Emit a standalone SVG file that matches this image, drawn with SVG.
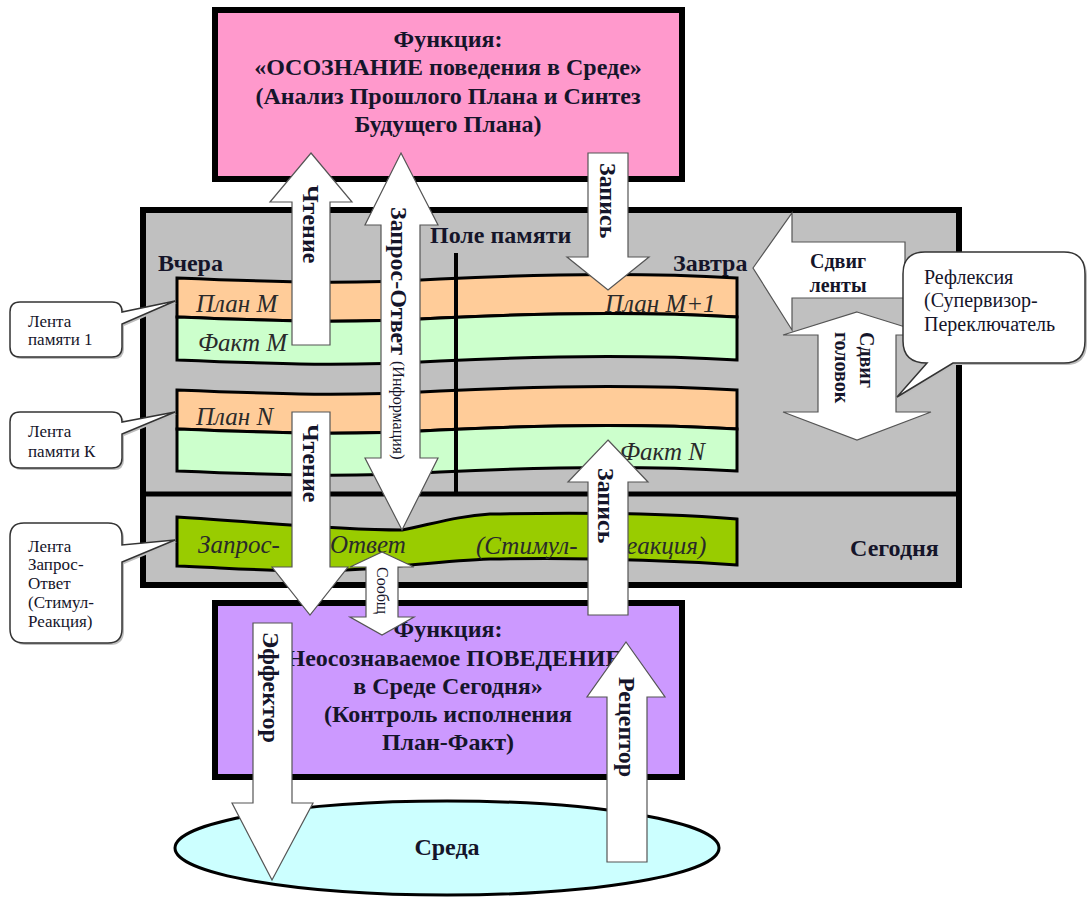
<svg xmlns="http://www.w3.org/2000/svg" width="1088" height="899" viewBox="0 0 1088 899">
<style>
.b{font-family:"Liberation Serif",serif;font-weight:bold;fill:#15152a}
.r{font-family:"Liberation Serif",serif;font-weight:normal;fill:#15152a}
.t{font-size:24px}
.c{text-anchor:middle}
.arr{fill:#fff;stroke:#555;stroke-width:1.2}
.frame{stroke:#000;stroke-width:6}
.tape{stroke:#000;stroke-width:3}
.it{font-family:"Liberation Serif",serif;font-style:italic;font-size:25px;fill:#2a2a2a}
.co{fill:#fff;stroke:#333;stroke-width:1.5}
.sh{fill:#bdbdbd}
.ct{font-family:"Liberation Serif",serif;font-size:17px;fill:#15152a}
.ct2{font-family:"Liberation Serif",serif;font-size:20px;fill:#15152a}
.rl{dominant-baseline:central}
</style>
<rect x="0" y="0" width="1088" height="899" fill="#fff"/>

<g id="func-top">
<rect class="frame" x="215" y="10" width="467" height="169" fill="#FF99CC"/>
<text class="b t c" x="448" y="47">Функция:</text>
<text class="b t c" x="448" y="75">«ОСОЗНАНИЕ поведения в Среде»</text>
<text class="b t c" x="448" y="104">(Анализ Прошлого Плана и Синтез</text>
<text class="b t c" x="448" y="132">Будущего Плана)</text>
</g>

<g id="memory-field">
<rect class="frame" x="143" y="210" width="816" height="375" fill="#C0C0C0"/>
<line x1="143" y1="494" x2="959" y2="494" stroke="#000" stroke-width="5"/>
<text class="b t" x="430" y="243">Поле памяти</text>
<text class="b t" x="158" y="271">Вчера</text>
<text class="b t" x="673" y="271">Завтра</text>
<text class="b t" x="850" y="556">Сегодня</text>
</g>

<g id="tape-1">
<path class="tape" fill="#FFCC99" d="M177,278 C300,283 350,284 440,279 C540,274 650,273 737,278 L737,317 C650,312 540,313 440,318 C350,323 300,322 177,317 Z"/>
<path class="tape" fill="#CCFFCC" d="M177,317 C300,322 350,323 440,318 C540,313 650,312 737,317 L737,360 C650,355 540,356 440,361 C350,366 300,365 177,360 Z"/>
<text class="it" x="196" y="312">План M</text>
<text class="it" x="198" y="351">Факт M</text>
<text class="it" x="605" y="312">План M+1</text>
</g>

<g id="tape-k">
<path class="tape" fill="#FFCC99" d="M177,390 C300,395 350,396 440,391 C540,386 650,385 737,390 L737,429 C650,424 540,425 440,430 C350,435 300,434 177,429 Z"/>
<path class="tape" fill="#CCFFCC" d="M177,429 C300,434 350,435 440,430 C540,425 650,424 737,429 L737,471 C650,466 540,467 440,472 C350,477 300,476 177,471 Z"/>
<text class="it" x="196" y="425">План N</text>
<text class="it" x="620" y="460">Факт N</text>
</g>

<g id="tape-qa">
<path class="tape" fill="#99CC00" d="M177,517 C260,522 330,530 402,530 C440,522 460,516 490,514 C600,512 680,514 737,519 L737,565 C680,561 600,557 490,559 C430,561 370,572 300,571 C250,570 210,567 177,566 Z"/>
<text class="it" x="198" y="553">Запрос-</text>
<text class="it" x="330" y="553">Ответ</text>
<text class="it" x="476" y="554">(Стимул-</text>
<text class="it" x="612" y="554">Реакция)</text>
</g>

<line id="divider" x1="456" y1="253" x2="456" y2="492" stroke="#000" stroke-width="4"/>

<g id="func-bottom">
<rect class="frame" x="215" y="603" width="467" height="174" fill="#CC99FF"/>
<text class="b t c" x="448" y="637">Функция:</text>
<text class="b t c" x="448" y="666">«Неосознаваемое ПОВЕДЕНИЕ</text>
<text class="b t c" x="448" y="694">в Среде Сегодня»</text>
<text class="b t c" x="448" y="722">(Контроль исполнения</text>
<text class="b t c" x="448" y="750">План-Факт)</text>
</g>

<g id="environment">
<ellipse cx="447" cy="848" rx="272" ry="47" fill="#CCFFFF" stroke="#000" stroke-width="3"/>
<text class="b t c" x="447" y="855">Среда</text>
</g>

<g id="connectors">
<polygon class="arr" points="311,153 352,202 330,202 330,345 292,345 292,202 270,202"/>
<text class="b t rl" transform="translate(311,185) rotate(90)">Чтение</text>

<polygon class="arr" points="401,153 438,225 420,225 420,458 438,458 402,530 365,458 381,458 381,225 365,225"/>
<text class="b t rl" transform="translate(399,207) rotate(90)">Запрос-Ответ <tspan font-size="16" font-weight="normal">(Информация)</tspan></text>

<polygon class="arr" points="588,153 628,153 628,257 649,257 608,290 567,257 588,257"/>
<text class="b t rl" transform="translate(608,163) rotate(90)">Запись</text>

<polygon class="arr" points="292,412 330,412 330,567 348,567 310,615 272,567 292,567"/>
<text class="b t rl" transform="translate(311,424) rotate(90)">Чтение</text>

<polygon class="arr" points="382,552 414,567 398,567 398,617 414,617 382,635 350,617 366,617 366,567 350,567"/>
<text class="r rl" font-size="16" transform="translate(382,567) rotate(90)">Сообщ</text>

<polygon class="arr" points="608,440 648,482 628,482 628,615 588,615 588,482 568,482"/>
<text class="b t rl" transform="translate(606,468) rotate(90)">Запись</text>

<polygon class="arr" points="253,623 292,623 292,803 313,803 272,880 232,803 253,803"/>
<text class="b t rl" transform="translate(271,632) rotate(90)">Эффектор</text>

<polygon class="arr" points="626,642 665,697 647,697 647,862 607,862 607,697 587,697"/>
<text class="b t rl" transform="translate(627,677) rotate(90)">Рецептор</text>

<polygon class="arr" points="753,268 792,213 792,242 905,242 905,298 792,298 792,330"/>
<text class="b c" font-size="20" x="838" y="268">Сдвиг</text>
<text class="b c" font-size="20" x="838" y="292">ленты</text>

<polygon class="arr" points="857,312 931,335 896,335 896,412 931,412 857,440 783,412 818,412 818,335 783,335"/>
<text class="b rl" font-size="20" transform="translate(867,332) rotate(90)">Сдвиг</text>
<text class="b rl" font-size="20" transform="translate(842,332) rotate(90)">головок</text>
</g>

<g id="callout-tape-1">
<path class="sh" transform="translate(2,2)" d="M20,302 H112 Q122,302 122,312 L175,301 L122,324 V347 Q122,357 112,357 H20 Q10,357 10,347 V312 Q10,302 20,302 Z"/>
<path class="co" d="M20,302 H112 Q122,302 122,312 L175,301 L122,324 V347 Q122,357 112,357 H20 Q10,357 10,347 V312 Q10,302 20,302 Z"/>
<text class="ct" x="28" y="327">Лента</text>
<text class="ct" x="28" y="345">памяти 1</text>
</g>

<g id="callout-tape-k">
<path class="sh" transform="translate(2,2)" d="M20,412 H112 Q122,412 122,422 L175,412 L122,434 V458 Q122,468 112,468 H20 Q10,468 10,458 V422 Q10,412 20,412 Z"/>
<path class="co" d="M20,412 H112 Q122,412 122,422 L175,412 L122,434 V458 Q122,468 112,468 H20 Q10,468 10,458 V422 Q10,412 20,412 Z"/>
<text class="ct" x="28" y="437">Лента</text>
<text class="ct" x="28" y="457">памяти К</text>
</g>

<g id="callout-tape-qa">
<path class="sh" transform="translate(2,2)" d="M24,523 H108 Q122,523 122,537 V545 L175,540 L122,562 V629 Q122,643 108,643 H24 Q10,643 10,629 V537 Q10,523 24,523 Z"/>
<path class="co" d="M24,523 H108 Q122,523 122,537 V545 L175,540 L122,562 V629 Q122,643 108,643 H24 Q10,643 10,629 V537 Q10,523 24,523 Z"/>
<text class="ct" x="28" y="552">Лента</text>
<text class="ct" x="28" y="570">Запрос-</text>
<text class="ct" x="28" y="589">Ответ</text>
<text class="ct" x="28" y="608">(Стимул-</text>
<text class="ct" x="28" y="627">Реакция)</text>
</g>

<g id="callout-reflexia">
<path class="sh" transform="translate(2,2)" d="M925,252 H1064 Q1085,252 1085,274 V341 Q1085,363 1064,363 H953 L897,397 L927,363 Q903,363 903,341 V274 Q903,252 925,252 Z"/>
<path class="co" d="M925,252 H1064 Q1085,252 1085,274 V341 Q1085,363 1064,363 H953 L897,397 L927,363 Q903,363 903,341 V274 Q903,252 925,252 Z"/>
<text class="ct2" x="924" y="284">Рефлексия</text>
<text class="ct2" x="924" y="307">(Супервизор-</text>
<text class="ct2" x="924" y="331">Переключатель</text>
</g>
</svg>
